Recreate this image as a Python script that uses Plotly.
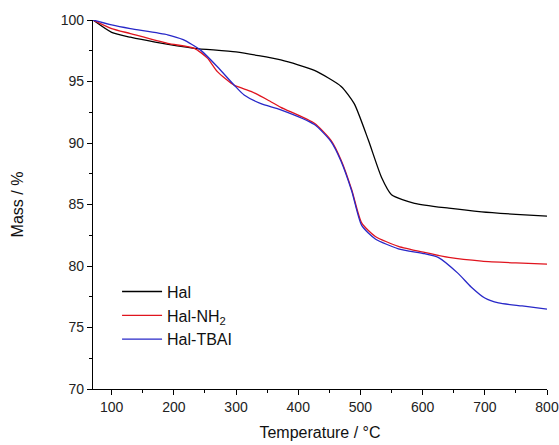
import plotly.graph_objects as go

# Temperature (°C) and mass (%)
hal_t = [70, 100, 130, 170, 233, 300, 372, 426, 469, 490, 513, 534, 550, 587, 642, 695, 750, 800]
hal_m = [100, 99.0, 98.6, 98.2, 97.7, 97.4, 96.75, 95.9, 94.6, 93.2, 90.2, 87.2, 85.8, 85.1, 84.7, 84.4, 84.2, 84.05]

nh2_t = [70, 100, 130, 190, 233, 254, 270, 297, 324, 351, 372, 426, 453, 469, 486, 502, 524, 561, 603, 642, 695, 750, 800]
nh2_m = [100, 99.3, 98.9, 98.1, 97.7, 96.9, 95.8, 94.7, 94.2, 93.5, 92.9, 91.6, 90.2, 88.6, 86.2, 83.5, 82.4, 81.6, 81.1, 80.7, 80.4, 80.25, 80.15]

tbai_t = [70, 100, 130, 190, 215, 243, 270, 297, 313, 340, 372, 426, 453, 469, 486, 502, 524, 561, 603, 625, 657, 678, 700, 722, 760, 800]
tbai_m = [100, 99.6, 99.3, 98.8, 98.4, 97.55, 96.2, 94.7, 93.9, 93.2, 92.7, 91.5, 90.1, 88.5, 86.1, 83.3, 82.2, 81.4, 81.0, 80.7, 79.4, 78.3, 77.4, 77.0, 76.75, 76.5]

x_ticks = [100, 200, 300, 400, 500, 600, 700, 800]
y_ticks = [70, 75, 80, 85, 90, 95, 100]

names = ["Hal", "Hal-NH<sub>2</sub>", "Hal-TBAI"]
colors = ["#000000", "#e0141e", "#2828c8"]

fig = go.Figure()
for t, m, n, c in zip([hal_t, nh2_t, tbai_t], [hal_m, nh2_m, tbai_m], names, colors):
    fig.add_trace(go.Scatter(x=t, y=m, mode="lines", name=n,
                             line=dict(color=c, width=1.3, shape="spline", smoothing=0.6)))

font = "Arial, Liberation Sans, sans-serif"
fig.update_layout(
    template="none",
    width=559, height=445,
    margin=dict(l=93, r=12, t=20, b=56),
    paper_bgcolor="white", plot_bgcolor="white",
    font=dict(family=font, size=14, color="#222"),
    showlegend=True,
    legend=dict(x=0.053, y=0.31, xanchor="left", yanchor="top",
                bgcolor="rgba(0,0,0,0)", font=dict(size=16, family=font, color="#111"),
                itemwidth=40, tracegroupgap=0),
    xaxis=dict(range=[70, 800], tickvals=x_ticks, automargin=False,
               showgrid=False, zeroline=False, showline=True, linecolor="#000", linewidth=1.2,
               ticks="outside", ticklen=5, tickcolor="#000",
               minor=dict(ticks="outside", ticklen=3, tickcolor="#000", tickvals=[150, 250, 350, 450, 550, 650, 750]),
               title=dict(text="Temperature / °C", font=dict(size=16, family=font, color="#111"), standoff=12)),
    yaxis=dict(range=[70, 100], tickvals=y_ticks, automargin=False,
               showgrid=False, zeroline=False, showline=True, linecolor="#000", linewidth=1.2,
               ticks="outside", ticklen=5, tickcolor="#000",
               minor=dict(ticks="outside", ticklen=3, tickcolor="#000", tickvals=[72.5, 77.5, 82.5, 87.5, 92.5, 97.5]),
               title=dict(text="Mass / %", font=dict(size=16, family=font, color="#111"), standoff=33)),
)
fig.write_html("out.html", config={"displayModeBar": False},
               post_script="document.body.style.margin='0';document.body.style.overflow='hidden';")
